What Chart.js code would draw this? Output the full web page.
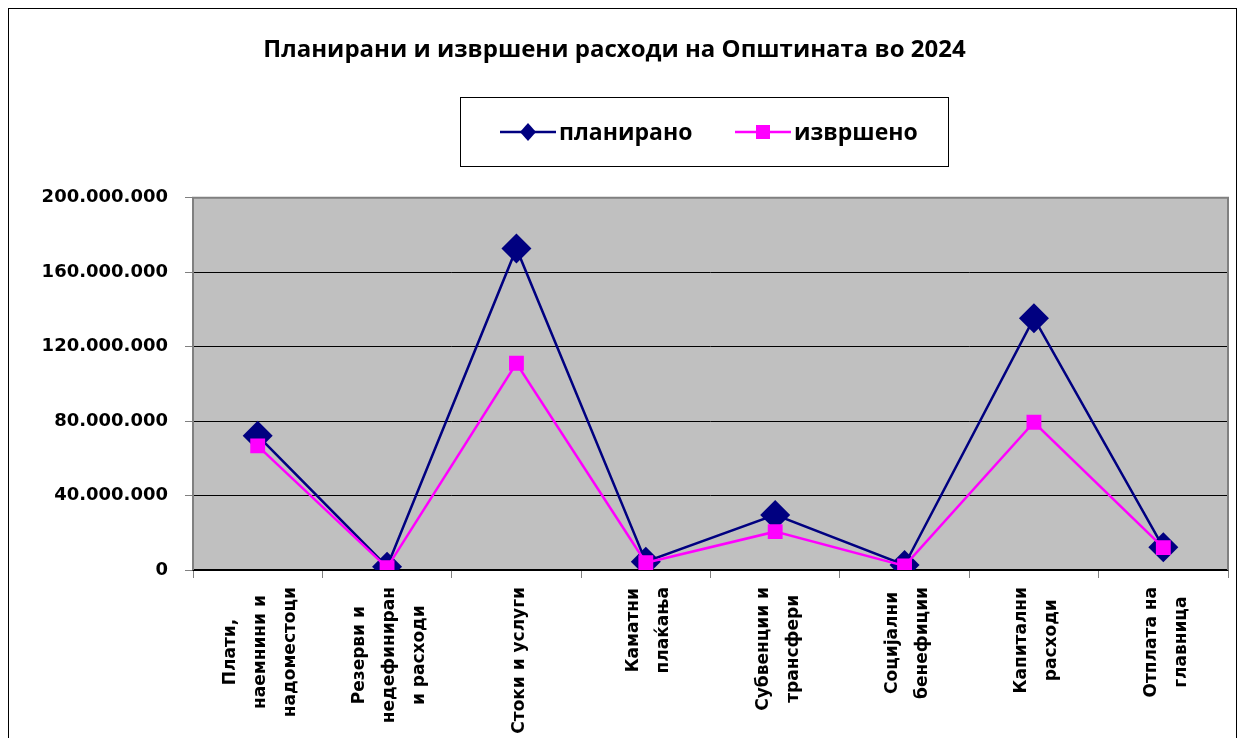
<!DOCTYPE html>
<html>
<head>
<meta charset="utf-8">
<script src="https://cdn.jsdelivr.net/npm/chart.js@4"></script>
<style>
  html, body { margin: 0; padding: 0; background: #fff; }
</style>
</head>
<body>
<canvas id="myChart" width="1243" height="738"></canvas>
<script>
// categories (multi-line labels), values in denars
const categories = [
  ["Плати,", "наемнини и", "надоместоци"],
  ["Резерви и", "недефиниран", "и расходи"],
  ["Стоки и услуги"],
  ["Каматни", "плаќања"],
  ["Субвенции и", "трансфери"],
  ["Социјални", "бенефиции"],
  ["Капитални", "расходи"],
  ["Отплата на", "главница"]
];
const planirano = [72200000, 1800000, 172800000, 4500000, 29600000, 2700000, 135300000, 12200000];
const izvrseno  = [66700000, 1300000, 111100000, 3900000, 20600000, 2200000, 79400000, 12000000];
const seriesNames = ["планирано", "извршено"];
const yMax = 200000000;
const yStep = 40000000;

function fmt(v) {
  return String(v).replace(/\B(?=(\d{3})+(?!\d))/g, '.');
}

// gray plot background + outer frame
const background = {
  id: 'background',
  beforeDraw(chart) {
    const c = chart.ctx, a = chart.chartArea;
    c.save();
    c.fillStyle = '#fff';
    c.fillRect(0, 0, chart.width, chart.height);
    c.strokeStyle = '#000';
    c.lineWidth = 1;
    c.strokeRect(8.5, 8.5, 1228, 800);
    c.fillStyle = '#c0c0c0';
    c.fillRect(a.left, a.top, a.right - a.left, a.bottom - a.top);
    c.restore();
  },
  beforeDatasetsDraw(chart) {
    const c = chart.ctx, a = chart.chartArea;
    c.save();
    c.strokeStyle = '#808080';
    c.lineWidth = 2;
    c.beginPath();
    c.moveTo(a.left, a.bottom);
    c.lineTo(a.left, a.top);
    c.lineTo(a.right, a.top);
    c.lineTo(a.right, a.bottom);
    c.stroke();
    c.restore();
  }
};

// rotated x labels, lines centred on each other
const xLabels = {
  id: 'xLabels',
  afterDraw(chart) {
    const c = chart.ctx, sx = chart.scales.x, top = chart.chartArea.bottom;
    c.save();
    c.font = 'bold 17px "DejaVu Sans"';
    c.fillStyle = '#000';
    c.textAlign = 'center';
    c.textBaseline = 'middle';
    const lh = 30;
    categories.forEach((lines, i) => {
      const x = sx.getPixelForValue(i);
      const maxW = Math.max(...lines.map(t => c.measureText(t).width));
      c.save();
      c.translate(x, top);
      c.rotate(-Math.PI / 2);
      lines.forEach((t, j) => {
        c.fillText(t, -(17 + maxW / 2), (j - (lines.length - 1) / 2) * lh + 3);
      });
      c.restore();
    });
    c.restore();
  }
};

// boxed legend
const legendBox = {
  id: 'legendBox',
  afterDraw(chart) {
    const c = chart.ctx;
    c.save();
    c.strokeStyle = '#000';
    c.lineWidth = 1;
    c.strokeRect(460.5, 97.5, 488, 69);
    const y = 132;
    const items = [
      { x: 500, ds: chart.data.datasets[0], shape: 'diamond' },
      { x: 735, ds: chart.data.datasets[1], shape: 'square' }
    ];
    items.forEach(it => {
      c.strokeStyle = it.ds.borderColor;
      c.fillStyle = it.ds.backgroundColor;
      c.lineWidth = 2.5;
      c.beginPath();
      c.moveTo(it.x, y);
      c.lineTo(it.x + 56, y);
      c.stroke();
      const cx = it.x + 28;
      c.beginPath();
      if (it.shape === 'diamond') {
        c.moveTo(cx, y - 9); c.lineTo(cx + 8, y); c.lineTo(cx, y + 9); c.lineTo(cx - 8, y);
      } else {
        c.rect(cx - 7, y - 7, 14, 14);
      }
      c.closePath();
      c.fill();
      c.fillStyle = '#000';
      c.font = 'bold 23px "Open Sans"';
      c.textAlign = 'left';
      c.textBaseline = 'middle';
      c.fillText(it.ds.label, it.x + 59, y + 1);
    });
    c.restore();
  }
};

const ctx = document.getElementById('myChart');
new Chart(ctx, {
  type: 'line',
  data: {
    labels: categories,
    datasets: [{
      label: seriesNames[0],
      data: planirano,
      borderColor: '#000080',
      backgroundColor: '#000080',
      borderWidth: 2.5,
      pointStyle: 'rectRot',
      pointRadius: 15,
      pointBorderWidth: 0,
      tension: 0,
      order: 1
    }, {
      label: seriesNames[1],
      data: izvrseno,
      borderColor: '#ff00ff',
      backgroundColor: '#ff00ff',
      borderWidth: 2.5,
      pointStyle: 'rect',
      pointRadius: 10.5,
      pointBorderWidth: 0,
      tension: 0,
      order: 0
    }]
  },
  options: {
    responsive: false,
    animation: false,
    layout: { padding: { left: 0, right: 14, top: 0, bottom: 0 } },
    plugins: {
      legend: { display: false },
      tooltip: { enabled: false },
      title: {
        display: true,
        text: 'Планирани и извршени расходи на Општината во 2024',
        color: '#000',
        font: { family: 'Open Sans', size: 24, weight: 'bold' },
        padding: { top: 36, bottom: 133 },
        fullSize: true
      }
    },
    scales: {
      x: {
        offset: true,
        grid: { offset: true, drawOnChartArea: false, drawTicks: true, tickLength: 8, color: '#808080' },
        border: { display: true, color: '#000', width: 1.5 },
        ticks: { display: false },
        afterFit(scale) { scale.height = 168; }
      },
      y: {
        min: 0,
        max: yMax,
        ticks: {
          stepSize: yStep,
          padding: 17,
          color: '#000',
          font: { family: 'DejaVu Sans', size: 18, weight: 'bold' },
          callback: v => fmt(v)
        },
        grid: { color: '#000', lineWidth: 1, tickLength: 8, tickColor: '#808080' },
        border: { display: false },
        afterFit(scale) { scale.width = 193; }
      }
    }
  },
  plugins: [background, xLabels, legendBox]
});
</script>
</body>
</html>
